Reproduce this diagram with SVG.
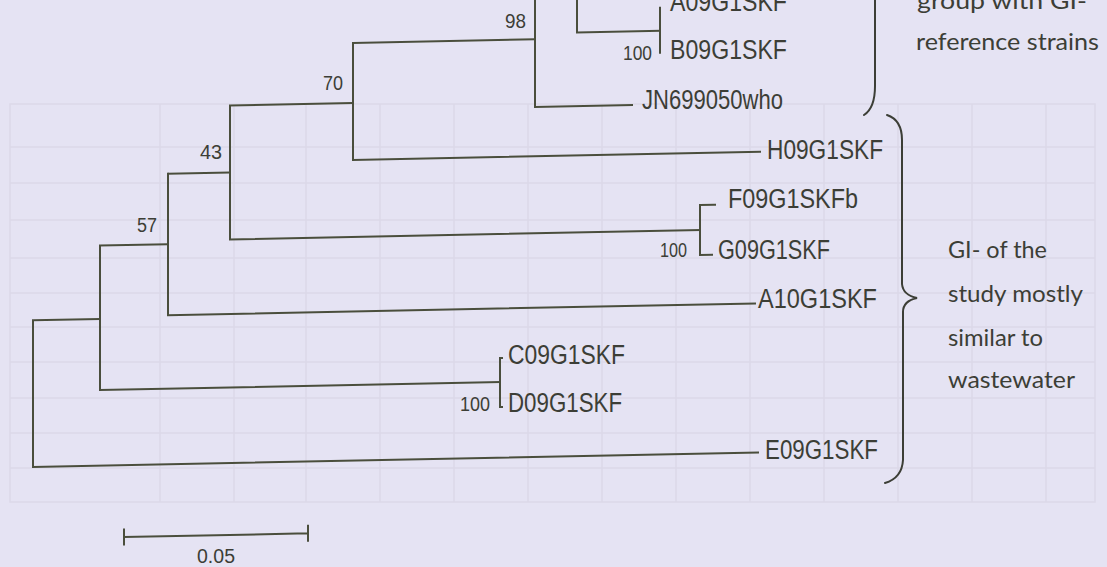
<svg xmlns="http://www.w3.org/2000/svg" width="1107" height="567" viewBox="0 0 1107 567">
<style>
.bg{fill:#e5e3f3}
.grid{stroke:#dbd9e9;stroke-width:1.5;fill:none}
.br{stroke:#4a4e3c;stroke-width:2;fill:none;stroke-linecap:square}
.lab{font-family:"Liberation Sans",Arial,sans-serif;font-size:27px;fill:#3c3e36}
.bs{font-family:"Liberation Sans",Arial,sans-serif;font-size:20px;fill:#3c3e36}
.ann{font-family:Lato,"Open Sans",sans-serif;font-size:23px;fill:#3c3e36}
.brace{stroke:#3c3e36;stroke-width:2;fill:none;stroke-linecap:round}
</style>
<rect class="bg" x="0" y="0" width="1107" height="567"/>
<g id="faint-table" class="grid">
<path d="M10 104 H1095 V502 H10 Z"/>
<path d="M10 147 H1095 M10 183 H1095 M10 220 H1095 M10 258 H1095 M10 293 H1095 M10 327 H1095 M10 362 H1095 M10 398 H1095 M10 433 H1095 M10 468 H1095"/>
<path d="M160 104 V502 M234 104 V502 M306 104 V502 M380 104 V502 M454 104 V502 M528 104 V502 M602 104 V502 M676 104 V502 M750 104 V502 M824 104 V502 M898 104 V502 M972 104 V502 M1046 104 V502"/>
</g>
<g id="connectors" transform="matrix(1 -0.02 0 1 0 11)">
<path class="br" d="M33 310 V456.7 M33 310 H100 M33 456.7 H758"/>
<path class="br" d="M100 236.6 V381 M100 236.6 H168 M100 381 H500"/>
<path class="br" d="M500 357 V406 M500 357 H502 M500 406 H502"/>
<path class="br" d="M168 166 V307.5 M168 166 H230 M168 307.5 H755"/>
<path class="br" d="M230 99 V233 M230 99 H353 M230 233 H700"/>
<path class="br" d="M700 208 V258 M700 208 H715 M700 258 H712"/>
<path class="br" d="M353 39 V156 M353 39 H535 M353 156 H760"/>
<path class="br" d="M535 -29 V106.7 M535 -29 H577 M535 106.7 H632"/>
<path class="br" d="M577 -90 V33 M577 33 H660"/>
<path class="br" d="M660 10 V55"/>
<path class="br" d="M124 528.5 H308 M124 521 V536 M308 521 V536"/>
</g>
<g id="bootstrap">
<text class="bs" x="505" y="28" textLength="21" lengthAdjust="spacingAndGlyphs">98</text>
<text class="bs" x="323" y="90" textLength="20" lengthAdjust="spacingAndGlyphs">70</text>
<text class="bs" x="200" y="159" textLength="22" lengthAdjust="spacingAndGlyphs">43</text>
<text class="bs" x="137" y="232" textLength="20" lengthAdjust="spacingAndGlyphs">57</text>
<text class="bs" x="623" y="60" textLength="29" lengthAdjust="spacingAndGlyphs">100</text>
<text class="bs" x="660" y="257" textLength="27" lengthAdjust="spacingAndGlyphs">100</text>
<text class="bs" x="460" y="411" textLength="30" lengthAdjust="spacingAndGlyphs">100</text>
</g>
<g id="leaf-A09G1SKF"><text class="lab" x="670" y="11" textLength="117" lengthAdjust="spacingAndGlyphs">A09G1SKF</text></g>
<g id="leaf-B09G1SKF"><text class="lab" x="670" y="59" textLength="117" lengthAdjust="spacingAndGlyphs">B09G1SKF</text></g>
<g id="leaf-JN699050who"><text class="lab" x="642" y="109" textLength="141" lengthAdjust="spacingAndGlyphs">JN699050who</text></g>
<g id="leaf-H09G1SKF"><text class="lab" x="767" y="159" textLength="116" lengthAdjust="spacingAndGlyphs">H09G1SKF</text></g>
<g id="leaf-F09G1SKFb"><text class="lab" x="728" y="208" textLength="130" lengthAdjust="spacingAndGlyphs">F09G1SKFb</text></g>
<g id="leaf-G09G1SKF"><text class="lab" x="718" y="259" textLength="112" lengthAdjust="spacingAndGlyphs">G09G1SKF</text></g>
<g id="leaf-A10G1SKF"><text class="lab" x="758" y="308" textLength="119" lengthAdjust="spacingAndGlyphs">A10G1SKF</text></g>
<g id="leaf-C09G1SKF"><text class="lab" x="508" y="364" textLength="117" lengthAdjust="spacingAndGlyphs">C09G1SKF</text></g>
<g id="leaf-D09G1SKF"><text class="lab" x="508" y="412" textLength="114" lengthAdjust="spacingAndGlyphs">D09G1SKF</text></g>
<g id="leaf-E09G1SKF"><text class="lab" x="765" y="459" textLength="113" lengthAdjust="spacingAndGlyphs">E09G1SKF</text></g>
<g id="scale-label"><text class="bs" x="197" y="563" textLength="38" lengthAdjust="spacingAndGlyphs">0.05</text></g>
<g id="brace-reference">
<path class="brace" d="M875 -40 V86 Q875 108 864 115"/>
<text class="ann" x="917" y="9" textLength="170" lengthAdjust="spacingAndGlyphs">group with GI-</text>
<text class="ann" x="916" y="50" textLength="183" lengthAdjust="spacingAndGlyphs">reference strains</text>
</g>
<g id="brace-study">
<path class="brace" d="M887 115 Q902 120 902 140 V284 Q903 295 917 298 Q903 301 903 312 V460 Q902 478 885 483"/>
<text class="ann" x="948" y="258" textLength="99" lengthAdjust="spacingAndGlyphs">GI- of the</text>
<text class="ann" x="948" y="302" textLength="135" lengthAdjust="spacingAndGlyphs">study mostly</text>
<text class="ann" x="948" y="346" textLength="95" lengthAdjust="spacingAndGlyphs">similar to</text>
<text class="ann" x="948" y="388" textLength="127" lengthAdjust="spacingAndGlyphs">wastewater</text>
</g>
</svg>
